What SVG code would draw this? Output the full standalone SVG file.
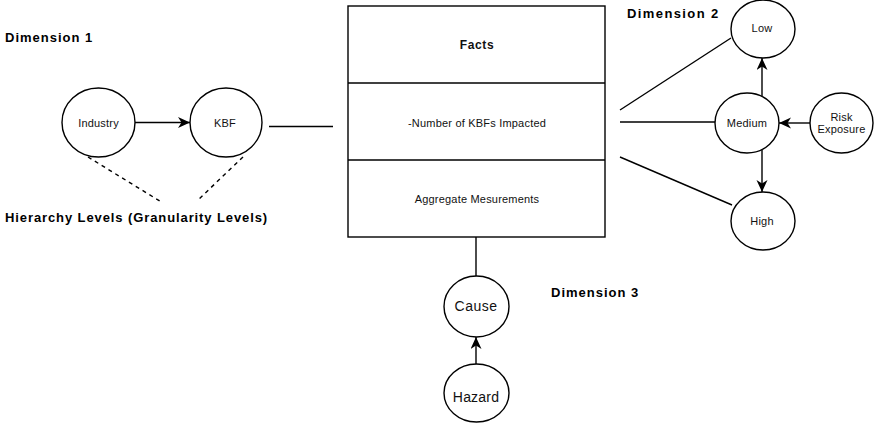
<svg xmlns="http://www.w3.org/2000/svg" width="874" height="423" viewBox="0 0 874 423">
<style>
.n{fill:#fff;stroke:#000;stroke-width:1.4}
.c{fill:none;stroke:#000;stroke-width:1.4}
.d{stroke-dasharray:4 4}
.t{font-family:"Liberation Sans",Arial,sans-serif;font-size:11px;fill:#111;text-anchor:middle;letter-spacing:0.2px}
.b{font-family:"Liberation Sans",Arial,sans-serif;font-weight:bold;font-size:13px;fill:#000;letter-spacing:1px}
.l{font-size:14px}
</style>
<defs>
<marker id="a" markerWidth="14" markerHeight="12" refX="12" refY="5.5" orient="auto" markerUnits="userSpaceOnUse">
<path d="M0,0 L12,5.5 L0,11 L3.5,5.5 Z" fill="#000"/>
</marker>
</defs>
<rect width="874" height="423" fill="#fff"/>
<g id="connectors">
<line class="c" x1="135" y1="122.5" x2="190" y2="122.5" marker-end="url(#a)"/>
<line class="c" x1="269" y1="126.5" x2="333" y2="126.5"/>
<line class="c d" x1="88" y1="157" x2="163" y2="203"/>
<line class="c d" x1="243" y1="157" x2="199" y2="199"/>
<line class="c" x1="620" y1="110" x2="731" y2="38"/>
<line class="c" x1="620" y1="122" x2="715" y2="122"/>
<line class="c" x1="620" y1="157" x2="732" y2="205"/>
<line class="c" x1="762" y1="96.5" x2="762" y2="58" marker-end="url(#a)"/>
<line class="c" x1="762" y1="149.5" x2="762" y2="192" marker-end="url(#a)"/>
<line class="c" x1="810" y1="123" x2="779" y2="123" marker-end="url(#a)"/>
<line class="c" x1="476" y1="237" x2="476" y2="276"/>
<line class="c" x1="476" y1="364" x2="476" y2="337" marker-end="url(#a)"/>
</g>
<g id="facts">
<rect class="n" x="348" y="6" width="257" height="231"/>
<line class="c" x1="348" y1="83" x2="605" y2="83"/>
<line class="c" x1="348" y1="160" x2="605" y2="160"/>
<text class="t" x="477" y="49" style="font-weight:bold;font-size:12px;letter-spacing:0.6px">Facts</text>
<text class="t" x="477" y="127">-Number of KBFs Impacted</text>
<text class="t" x="477" y="203">Aggregate Mesurements</text>
</g>
<g id="industry">
<ellipse class="n" cx="98.5" cy="122.5" rx="36.5" ry="34.5"/>
<text class="t" x="98.5" y="127">Industry</text>
</g>
<g id="kbf">
<ellipse class="n" cx="226" cy="122.5" rx="36" ry="34.5"/>
<text class="t" x="225" y="127">KBF</text>
</g>
<g id="low">
<ellipse class="n" cx="763" cy="29" rx="32" ry="29"/>
<text class="t" x="762" y="32">Low</text>
</g>
<g id="medium">
<ellipse class="n" cx="747" cy="123" rx="32" ry="30"/>
<text class="t" x="747" y="127">Medium</text>
</g>
<g id="high">
<ellipse class="n" cx="763" cy="221" rx="32" ry="29"/>
<text class="t" x="762" y="225">High</text>
</g>
<g id="risk">
<ellipse class="n" cx="841.5" cy="123" rx="31.5" ry="30"/>
<text class="t" x="841.5" y="121">Risk</text>
<text class="t" x="841.5" y="133">Exposure</text>
</g>
<g id="cause">
<ellipse class="n" cx="476.5" cy="306.5" rx="32.5" ry="30.5"/>
<text class="t l" x="476" y="311" style="letter-spacing:0.5px">Cause</text>
</g>
<g id="hazard">
<ellipse class="n" cx="476.5" cy="393" rx="32.5" ry="29"/>
<text class="t l" x="476" y="402">Hazard</text>
</g>
<g id="labels">
<text class="b" x="5" y="42">Dimension 1</text>
<text class="b" x="5" y="222" style="letter-spacing:0.9px">Hierarchy Levels (Granularity Levels)</text>
<text class="b" x="627" y="18" style="letter-spacing:1.4px">Dimension 2</text>
<text class="b" x="551" y="297">Dimension 3</text>
</g>
</svg>
